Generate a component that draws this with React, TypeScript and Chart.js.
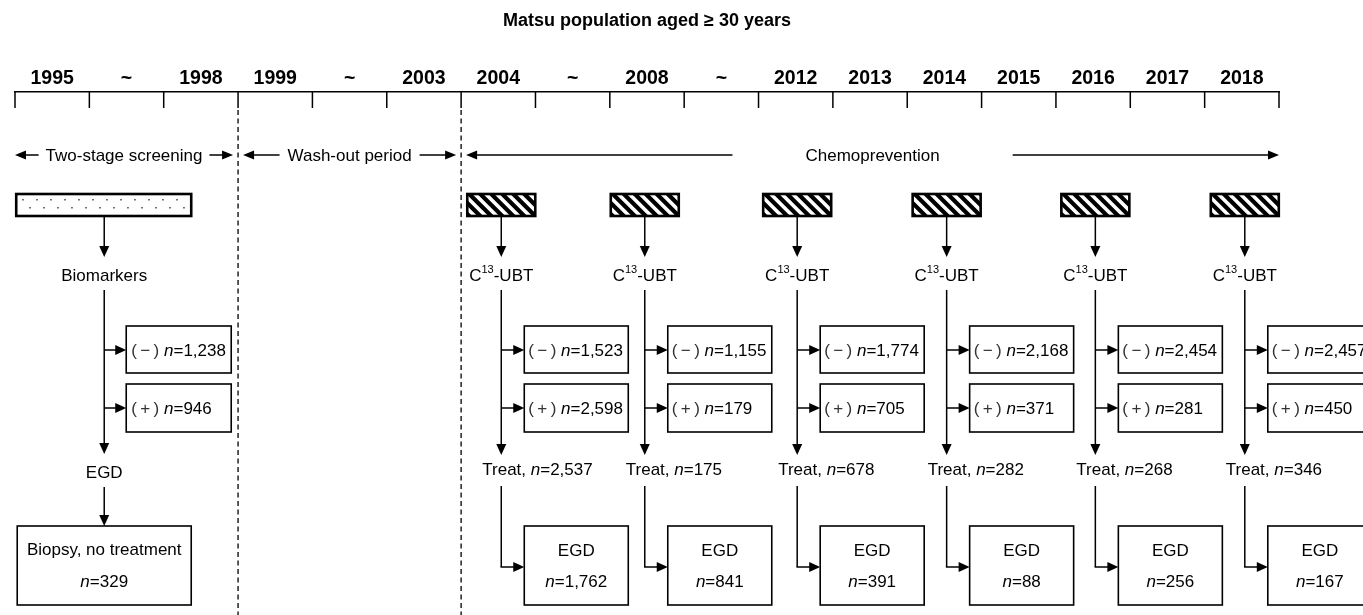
import React, { useEffect, useRef } from 'react';
import { Chart, registerables } from 'chart.js';

Chart.register(...registerables);

// ---------- data ----------
const TITLE = 'Matsu population aged \u2265 30 years';
const yearLabels = ['1995', '~', '1998', '1999', '~', '2003', '2004', '~', '2008', '~', '2012', '2013', '2014', '2015', '2016', '2017', '2018'];
const phaseLabels = ['Two-stage screening', 'Wash-out period', 'Chemoprevention'];
const phaseStartBoundary = [0, 3, 6];
const phaseEndBoundary = [3, 6, 17];
const screeningNegative = 1238;
const screeningPositive = 946;
const biopsyCount = 329;
const chemoSlots = [6, 8, 10, 12, 14, 16]; // 2004, 2008, 2012, 2014, 2016, 2018
const ubtNegative = [1523, 1155, 1774, 2168, 2454, 2457];
const ubtPositive = [2598, 179, 705, 371, 281, 450];
const treated = [2537, 175, 678, 282, 268, 346];
const egdCount = [1762, 841, 391, 88, 256, 167];

// ---------- layout / style ----------
const FONT = '"Liberation Sans", Arial, Helvetica, sans-serif';
const phaseGap = [7, 8, 73];
const columnNudge = [0.04, -0.03, 0.02, 0.03, 0.03, 0.04]; // slot-relative nudge of each column
const ROW = {
  phase: 155, barTop: 194, barBot: 216, tip1: 257, label1: 275, lineStart: 290,
  branchNeg: 350, branchPos: 408, negTop: 326, negBot: 373, posTop: 384, posBot: 432,
  tip2: 455, label2: 469, line2Start: 486, elbow: 567, egdTop: 526, egdBot: 605,
  egdText1: 550, egdText2: 581,
};

type Seg = { t: string; it?: boolean; sup?: boolean; color?: string };
const fmt = (v: number) => v.toLocaleString('en-US');
const nSegs = (v: number): Seg[] => [{ t: 'n', it: true }, { t: '=' + fmt(v) }];

export default function App() {
  const ref = useRef<HTMLCanvasElement>(null);

  useEffect(() => {
    const canvas = ref.current!;

    const flowPlugin = {
      id: 'flow',
      afterDraw(chart: any) {
        const ctx: CanvasRenderingContext2D = chart.ctx;
        const xs = chart.scales.x;
        const ys = chart.scales.y;
        const X = (u: number) => xs.getPixelForValue(u);
        const Y = (v: number) => ys.getPixelForValue(v);
        const B = (b: number) => X(b - 0.5); // slot boundary

        ctx.save();
        ctx.strokeStyle = '#000';
        ctx.fillStyle = '#000';
        ctx.lineCap = 'butt';

        const line = (x1: number, y1: number, x2: number, y2: number, lw = 1.5) => {
          ctx.lineWidth = lw;
          ctx.beginPath();
          ctx.moveTo(x1, y1);
          ctx.lineTo(x2, y2);
          ctx.stroke();
        };
        const head = (tx: number, ty: number, dir: 'l' | 'r' | 'd', len = 11, half = 5) => {
          ctx.fillStyle = '#000';
          ctx.beginPath();
          if (dir === 'd') {
            ctx.moveTo(tx, ty); ctx.lineTo(tx - half, ty - len); ctx.lineTo(tx + half, ty - len);
          } else if (dir === 'r') {
            ctx.moveTo(tx, ty); ctx.lineTo(tx - len, ty - half); ctx.lineTo(tx - len, ty + half);
          } else {
            ctx.moveTo(tx, ty); ctx.lineTo(tx + len, ty - half); ctx.lineTo(tx + len, ty + half);
          }
          ctx.closePath();
          ctx.fill();
        };
        const arrowDown = (x: number, y1: number, tip: number) => {
          line(x, y1, x, tip - 8);
          head(x, tip, 'd');
        };
        const arrowRight = (x1: number, tip: number, y: number) => {
          line(x1, y, tip - 8, y);
          head(tip, y, 'r');
        };
        const box = (x1: number, y1: number, x2: number, y2: number, lw = 1.6) => {
          ctx.fillStyle = '#fff';
          ctx.fillRect(x1, y1, x2 - x1, y2 - y1);
          ctx.lineWidth = lw;
          ctx.strokeStyle = '#000';
          ctx.strokeRect(x1, y1, x2 - x1, y2 - y1);
        };
        const rich = (segs: Seg[], x: number, yc: number, align: 'left' | 'center', size = 17) => {
          const fontFor = (s: Seg) => `${s.it ? 'italic ' : ''}${s.sup ? 11 : size}px ${FONT}`;
          let w = 0;
          for (const s of segs) { ctx.font = fontFor(s); w += ctx.measureText(s.t).width; }
          let cx = align === 'center' ? x - w / 2 : x;
          const base = yc + size * 0.36;
          ctx.textAlign = 'left';
          ctx.textBaseline = 'alphabetic';
          for (const s of segs) {
            ctx.font = fontFor(s);
            ctx.fillStyle = s.color || '#000';
            ctx.fillText(s.t, cx, s.sup ? base - 8 : base);
            cx += ctx.measureText(s.t).width;
          }
        };

        // timeline tick marks (hanging below axis line)
        const axisY = Y(92);
        for (let b = 0; b <= yearLabels.length; b++) {
          line(B(b), axisY, B(b), Y(108), 1.5);
        }
        // dashed phase separators
        ctx.setLineDash([5, 3.5]);
        for (const b of [phaseStartBoundary[1], phaseStartBoundary[2]]) {
          line(B(b), Y(110), B(b), Y(615), 1.3);
        }
        ctx.setLineDash([]);

        // phase arrows
        phaseLabels.forEach((lab, i) => {
          const x1 = B(phaseStartBoundary[i]) + (phaseStartBoundary[i] === 0 ? 0 : 5);
          const x2 = B(phaseEndBoundary[i]) - (phaseEndBoundary[i] === yearLabels.length ? 0 : 5);
          const y = Y(ROW.phase);
          const cx = (x1 + x2) / 2;
          ctx.font = `17px ${FONT}`;
          const tw = ctx.measureText(lab).width;
          line(x1 + 6, y, cx - tw / 2 - phaseGap[i], y);
          head(x1, y, 'l', 11, 4.5);
          line(cx + tw / 2 + phaseGap[i], y, x2 - 6, y);
          head(x2, y, 'r', 11, 4.5);
          rich([{ t: lab }], cx, y, 'center');
        });

        // ---- screening column ----
        const a0 = X(0.7);
        {
          const x1 = a0 - 88, x2 = a0 + 87, y1 = Y(ROW.barTop), y2 = Y(ROW.barBot);
          ctx.fillStyle = '#fff';
          ctx.fillRect(x1, y1, x2 - x1, y2 - y1);
          ctx.fillStyle = '#444';
          for (let r = 0; r < 2; r++) {
            const yy = y1 + 5 + r * 8;
            for (let xx = x1 + 6 + r * 7; xx < x2 - 2; xx += 14) {
              ctx.fillRect(xx, yy, 1.5, 1.5);
            }
          }
          ctx.lineWidth = 2.6;
          ctx.strokeStyle = '#000';
          ctx.strokeRect(x1, y1, x2 - x1, y2 - y1);
        }
        arrowDown(a0, Y(ROW.barBot), Y(ROW.tip1));
        rich([{ t: 'Biomarkers' }], a0, Y(ROW.label1), 'center');
        arrowDown(a0, Y(ROW.lineStart), Y(ROW.tip2) - 1);
        arrowRight(a0, a0 + 22, Y(ROW.branchNeg));
        arrowRight(a0, a0 + 22, Y(ROW.branchPos));
        box(a0 + 22, Y(ROW.negTop), a0 + 127, Y(ROW.negBot));
        box(a0 + 22, Y(ROW.posTop), a0 + 127, Y(ROW.posBot));
        rich([{ t: '(\u2009\u2212\u2009)', color: '#333' }, { t: ' ' }, ...nSegs(screeningNegative)], a0 + 27, Y((ROW.negTop + ROW.negBot) / 2), 'left');
        rich([{ t: '(\u2009+\u2009)', color: '#333' }, { t: ' ' }, ...nSegs(screeningPositive)], a0 + 27, Y((ROW.posTop + ROW.posBot) / 2), 'left');
        rich([{ t: 'EGD' }], a0, Y(472), 'center');
        arrowDown(a0, Y(487), Y(ROW.egdTop));
        box(a0 - 87, Y(ROW.egdTop), a0 + 87, Y(ROW.egdBot));
        rich([{ t: 'Biopsy, no treatment' }], a0, Y(549), 'center');
        rich(nSegs(biopsyCount), a0, Y(ROW.egdText2), 'center');

        // ---- chemoprevention columns ----
        chemoSlots.forEach((slot, i) => {
          const a = X(slot + columnNudge[i]);
          // hatched bar
          const x1 = a - 34, x2 = a + 34, y1 = Y(ROW.barTop), y2 = Y(ROW.barBot);
          ctx.save();
          ctx.beginPath();
          ctx.rect(x1, y1, x2 - x1, y2 - y1);
          ctx.clip();
          ctx.fillStyle = '#fff';
          ctx.fillRect(x1, y1, x2 - x1, y2 - y1);
          ctx.strokeStyle = '#000';
          ctx.lineWidth = 4.2;
          const h = y2 - y1;
          ctx.beginPath();
          for (let c = x1 - h; c < x2 + h; c += 11) {
            ctx.moveTo(c, y1 - 2);
            ctx.lineTo(c + h + 4, y2 + 2);
          }
          ctx.stroke();
          ctx.restore();
          ctx.lineWidth = 2.6;
          ctx.strokeStyle = '#000';
          ctx.strokeRect(x1, y1, x2 - x1, y2 - y1);

          arrowDown(a, y2, Y(ROW.tip1));
          rich([{ t: 'C' }, { t: '13', sup: true }, { t: '-UBT' }], a, Y(ROW.label1), 'center');
          arrowDown(a, Y(ROW.lineStart), Y(ROW.tip2));
          arrowRight(a, a + 23, Y(ROW.branchNeg));
          arrowRight(a, a + 23, Y(ROW.branchPos));
          box(a + 23, Y(ROW.negTop), a + 127, Y(ROW.negBot));
          box(a + 23, Y(ROW.posTop), a + 127, Y(ROW.posBot));
          rich([{ t: '(\u2009\u2212\u2009)', color: '#333' }, { t: ' ' }, ...nSegs(ubtNegative[i])], a + 27, Y((ROW.negTop + ROW.negBot) / 2), 'left');
          rich([{ t: '(\u2009+\u2009)', color: '#333' }, { t: ' ' }, ...nSegs(ubtPositive[i])], a + 27, Y((ROW.posTop + ROW.posBot) / 2), 'left');
          rich([{ t: 'Treat, ' }, ...nSegs(treated[i])], a - 19, Y(ROW.label2), 'left');
          line(a, Y(ROW.line2Start), a, Y(ROW.elbow));
          arrowRight(a - 0.75, a + 23, Y(ROW.elbow));
          box(a + 23, Y(ROW.egdTop), a + 127, Y(ROW.egdBot));
          rich([{ t: 'EGD' }], a + 75, Y(ROW.egdText1), 'center');
          rich(nSegs(egdCount[i]), a + 75, Y(ROW.egdText2), 'center');
        });

        ctx.restore();
      },
    };

    const chart = new Chart(canvas, {
      type: 'line',
      data: { labels: yearLabels, datasets: [] },
      options: {
        animation: false,
        responsive: false,
        events: [],
        layout: { padding: { left: 15, right: 84, top: 0, bottom: 0 } },
        plugins: {
          legend: { display: false },
          tooltip: { enabled: false },
          title: {
            display: true,
            text: TITLE,
            fullSize: false,
            color: '#000',
            font: { family: FONT, size: 18, weight: 'bold', lineHeight: 1.2 },
            padding: { top: 10, bottom: 20 },
          },
        },
        scales: {
          x: {
            type: 'category',
            position: 'top',
            offset: true,
            grid: { offset: true, display: true, drawOnChartArea: false, drawTicks: false },
            border: { display: true, color: '#000', width: 1.5 },
            ticks: {
              color: '#000',
              font: { family: FONT, size: 19.5, weight: 'bold' },
              padding: 1.3,
              maxRotation: 0,
              autoSkip: false,
            },
            afterFit: (s: any) => { s.height = 40.4; },
          },
          y: { type: 'linear', display: false, reverse: true, min: 92, max: 615 },
        },
      } as any,
      plugins: [flowPlugin],
    });
    return () => chart.destroy();
  }, []);

  return (
    <div style={{ position: 'absolute', left: 0, top: 0, width: 1363, height: 615, background: '#fff' }}>
      <canvas ref={ref} width={1363} height={615} style={{ display: 'block' }} />
    </div>
  );
}
